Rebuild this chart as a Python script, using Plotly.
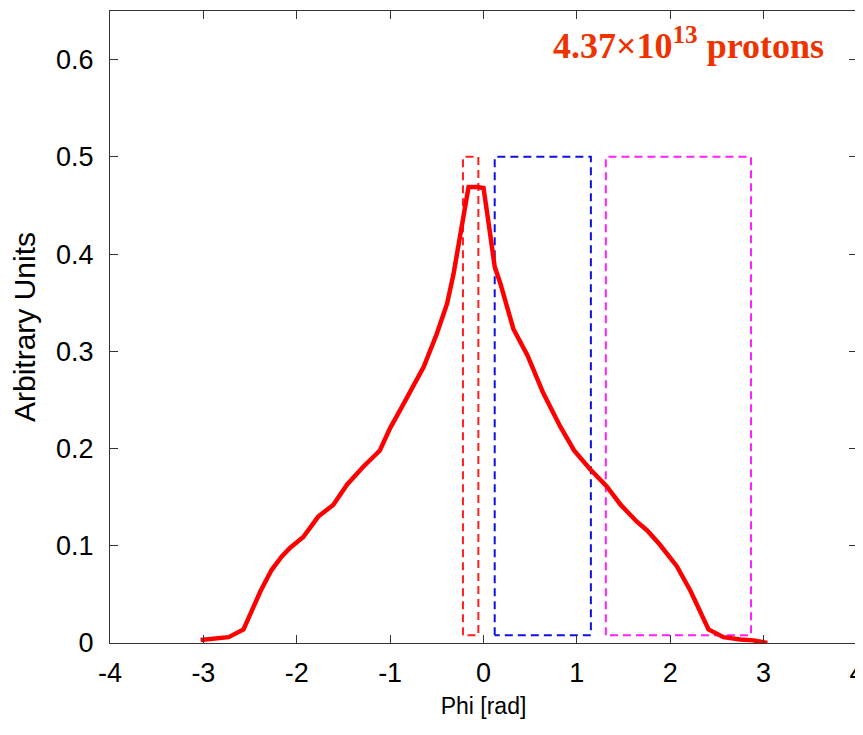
import plotly.graph_objs as go

# azimuthal distribution
phi = [-3.03, -2.89, -2.73, -2.57, -2.48, -2.39, -2.27, -2.16, -2.07, -1.93, -1.77, -1.61,
       -1.46, -1.29, -1.11, -1.0, -0.89, -0.64, -0.50, -0.39, -0.32, -0.27, -0.21, -0.16,
       -0.07, 0.0, 0.05, 0.12, 0.18, 0.25, 0.32, 0.47, 0.64, 0.82, 0.97, 1.14, 1.32, 1.47,
       1.64, 1.75, 1.89, 2.07, 2.22, 2.41, 2.57, 2.75, 2.89, 3.04]
arb_units = [0.003, 0.004, 0.006, 0.014, 0.034, 0.053, 0.075, 0.089, 0.098, 0.109, 0.130, 0.142,
             0.163, 0.181, 0.198, 0.221, 0.240, 0.284, 0.318, 0.349, 0.380, 0.410, 0.445, 0.469,
             0.469, 0.468, 0.435, 0.387, 0.370, 0.346, 0.323, 0.296, 0.257, 0.223, 0.198, 0.179,
             0.161, 0.142, 0.125, 0.116, 0.101, 0.079, 0.053, 0.014, 0.006, 0.0035, 0.0027, 0.0]

# dashed selection windows
box_left = [-0.22, 0.12, 1.31]
box_right = [-0.055, 1.15, 2.865]
box_bottom = [0.008, 0.008, 0.008]
box_top = [0.5, 0.5, 0.5]
box_colors = ['#ff2020', '#1010e0', '#ff20ff']

x_ticks = [-4, -3, -2, -1, 0, 1, 2, 3, 4]
x_tick_text = ['-4', '-3', '-2', '-1', '0', '1', '2', '3', '4']
y_ticks = [0, 0.1, 0.2, 0.3, 0.4, 0.5, 0.6]
y_tick_text = ['0', '0.1', '0.2', '0.3', '0.4', '0.5', '0.6']

label = '4.37×10<sup>13</sup> protons'

data = []
for l, r, b, t, c in zip(box_left, box_right, box_bottom, box_top, box_colors):
    data.append(go.Scatter(x=[l, l, r, r, l], y=[b, t, t, b, b], mode='lines',
                           line=dict(color=c, width=2, dash='8px,5px')))
data.append(go.Scatter(x=phi, y=arb_units, mode='lines',
                       line=dict(color='#ff0000', width=4.5)))

axis = dict(showgrid=False, zeroline=False, showline=True, linecolor='#333333', linewidth=1,
            mirror='allticks', ticks='inside', ticklen=8, tickcolor='#333333', automargin=False,
            tickfont=dict(family='Liberation Sans', size=27, color='black'))

# page body adds ~8px offset, so margins are trimmed to keep the plot box in place
layout = dict(
    width=863, height=735,
    margin=dict(l=102, r=14, t=3, b=100),
    paper_bgcolor='white', plot_bgcolor='white',
    showlegend=False,
    xaxis=dict(axis, range=[-4, 4], tickvals=x_ticks, ticktext=x_tick_text, ticklabelstandoff=6,
               title=dict(text='Phi [rad]', font=dict(family='Liberation Sans', size=23, color='black'),
                          standoff=10)),
    yaxis=dict(axis, range=[0, 0.65], tickvals=y_ticks, ticktext=y_tick_text, ticklabelstandoff=10,
               title=dict(text='Arbitrary Units', font=dict(family='Liberation Sans', size=30, color='black'),
                          standoff=16)),
    annotations=[dict(x=2.2, y=0.617, xref='x', yref='y', text='<b>' + label + '</b>',
                      showarrow=False, font=dict(family='Liberation Serif', size=36, color='#ee3300'))],
)

fig = go.Figure(data=data, layout=layout)
fig.write_html("out.html")
